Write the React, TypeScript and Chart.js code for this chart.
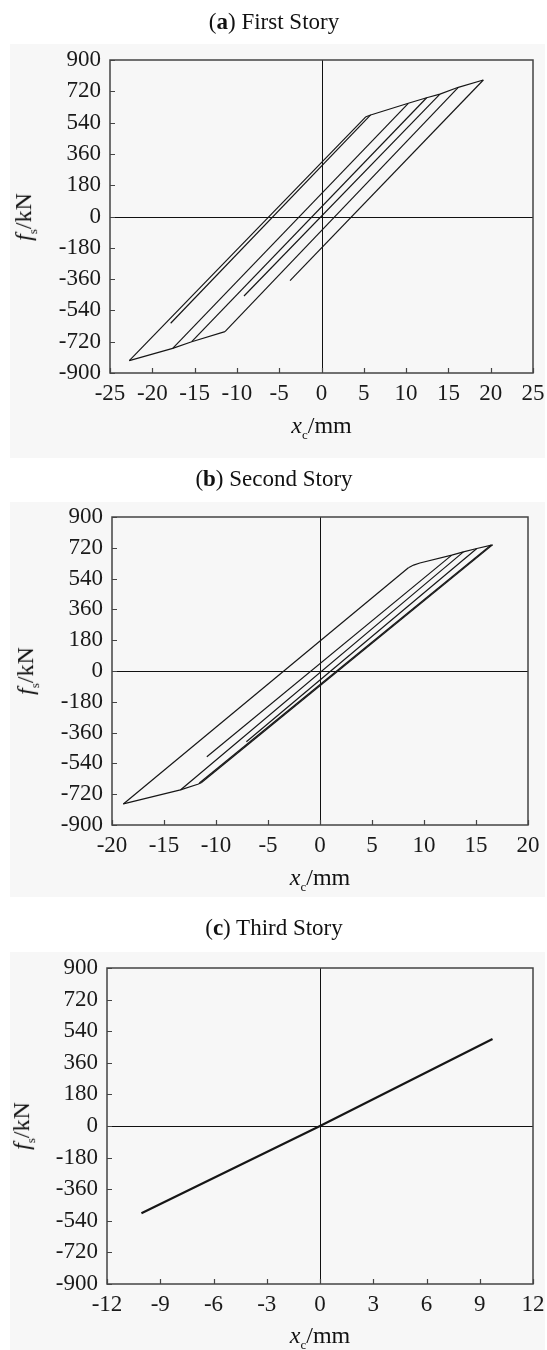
import React, { useEffect, useRef } from "react";
import { Chart, registerables } from "chart.js";

Chart.register(...registerables);

type Pt = [number, number];

const FONT = "'Liberation Serif', 'Times New Roman', serif";
const PAGE_W = 547;

// ---------- shared force ticks ----------
const forceTicks = [-900, -720, -540, -360, -180, 0, 180, 360, 540, 720, 900];

// ---------- (a) First Story ----------
const story1DispTicks = [-25, -20, -15, -10, -5, 0, 5, 10, 15, 20, 25];
const story1UpperBranch: Pt[] = [
  [5.26, 574], [5.81, 584], [10.26, 651], [12.43, 683], [14.0, 704], [16.17, 743], [19.13, 785],
];
const story1LowerBranch: Pt[] = [
  [-22.72, -829], [-17.59, -758], [-15.34, -720], [-11.41, -662],
];
const story1Unloading: Pt[][] = [
  [[-22.72, -829], [5.26, 574]],
  [[-17.83, -614], [5.81, 584]],
  [[-17.59, -758], [10.26, 651]],
  [[-15.34, -720], [12.43, 683]],
  [[-9.16, -457], [14.0, 704]],
  [[-11.41, -662], [16.17, 743]],
  [[-3.72, -369], [19.13, 785]],
];

// ---------- (b) Second Story ----------
const story2DispTicks = [-20, -15, -10, -5, 0, 5, 10, 15, 20];
const story2UpperBranch: Pt[] = [
  [8.5, 603], [9.0, 619], [9.6, 631], [12.67, 677], [13.79, 696], [15.08, 716], [16.59, 737],
];
const story2LowerBranch: Pt[] = [
  [-18.91, -777], [-13.42, -695], [-11.75, -662], [-11.42, -653],
];
const story2Unloading: Pt[][] = [
  [[-18.91, -777], [8.5, 603]],
  [[-10.88, -501], [12.67, 677]],
  [[-13.42, -695], [13.79, 696]],
  [[-7.08, -413], [15.08, 716]],
  [[-11.42, -653], [16.59, 737]],
  [[-11.6, -655], [16.45, 736]],
];

// ---------- (c) Third Story ----------
const story3DispTicks = [-12, -9, -6, -3, 0, 3, 6, 9, 12];
const story3Response: Pt[] = [[-10.06, -497], [0, 0], [9.72, 496]];

interface PanelSpec {
  key: string;
  label: string;
  titleY: number;
  panelTop: number;
  panelBottom: number;
  canvasTop: number;
  canvasHeight: number;
  plotLeft: number;
  plotRight: number;
  plotTop: number;
  plotBottom: number;
  xTicks: number[];
  branches: Pt[][];
  lineWidth: number;
  yTitleX: number;
  xTitleY: number;
  name: string;
}

const panels: PanelSpec[] = [
  {
    key: "a",
    label: "a",
    name: "First Story",
    titleY: 21,
    panelTop: 44,
    panelBottom: 458,
    canvasTop: 0,
    canvasHeight: 460,
    plotLeft: 110,
    plotRight: 533,
    plotTop: 60,
    plotBottom: 373,
    xTicks: story1DispTicks,
    branches: [story1UpperBranch, story1LowerBranch, ...story1Unloading],
    lineWidth: 1.2,
    yTitleX: 25,
    xTitleY: 427,
  },
  {
    key: "b",
    label: "b",
    name: "Second Story",
    titleY: 478,
    panelTop: 502,
    panelBottom: 897,
    canvasTop: 460,
    canvasHeight: 440,
    plotLeft: 112,
    plotRight: 528,
    plotTop: 517,
    plotBottom: 825,
    xTicks: story2DispTicks,
    branches: [story2UpperBranch, story2LowerBranch, ...story2Unloading],
    lineWidth: 1.2,
    yTitleX: 27,
    xTitleY: 879,
  },
  {
    key: "c",
    label: "c",
    name: "Third Story",
    titleY: 927,
    panelTop: 952,
    panelBottom: 1350,
    canvasTop: 900,
    canvasHeight: 450,
    plotLeft: 107,
    plotRight: 533,
    plotTop: 968,
    plotBottom: 1284,
    xTicks: story3DispTicks,
    branches: [story3Response],
    lineWidth: 2.2,
    yTitleX: 23,
    xTitleY: 1337,
  },
];

const framePlugin = {
  id: "hystFrame",
  beforeDatasetsDraw(chart: any) {
    const { ctx, chartArea: a, scales } = chart;
    const x0 = Math.round(scales.x.getPixelForValue(0)) + 0.5;
    const y0 = Math.round(scales.y.getPixelForValue(0)) + 0.5;
    ctx.save();
    ctx.strokeStyle = "#111";
    ctx.lineWidth = 1;
    ctx.beginPath();
    ctx.moveTo(x0, a.top);
    ctx.lineTo(x0, a.bottom);
    ctx.moveTo(a.left, y0);
    ctx.lineTo(a.right, y0);
    ctx.stroke();
    ctx.restore();
  },
  afterDraw(chart: any) {
    const { ctx, chartArea: a, scales } = chart;
    ctx.save();
    ctx.strokeStyle = "#444";
    ctx.lineWidth = 1.5;
    ctx.strokeRect(a.left, a.top, a.right - a.left, a.bottom - a.top);
    ctx.lineWidth = 1.2;
    ctx.beginPath();
    for (const t of scales.x.ticks) {
      const px = Math.round(scales.x.getPixelForValue(t.value)) + 0.5;
      ctx.moveTo(px, a.bottom);
      ctx.lineTo(px, a.bottom - 5);
    }
    for (const t of scales.y.ticks) {
      const py = Math.round(scales.y.getPixelForValue(t.value)) + 0.5;
      ctx.moveTo(a.left, py);
      ctx.lineTo(a.left + 5, py);
    }
    ctx.stroke();
    ctx.restore();
  },
};

function StoryChart({ spec }: { spec: PanelSpec }) {
  const ref = useRef<HTMLCanvasElement>(null);
  useEffect(() => {
    const canvas = ref.current;
    if (!canvas) return;
    const xs = spec.xTicks;
    const chart = new Chart(canvas, {
      type: "scatter",
      data: {
        datasets: spec.branches.map((b) => ({
          data: b.map(([x, y]) => ({ x, y })),
          showLine: true,
          borderColor: "#161616",
          backgroundColor: "#161616",
          borderWidth: spec.lineWidth,
          pointRadius: 0,
          pointHoverRadius: 0,
          tension: 0,
          fill: false,
        })),
      },
      options: {
        animation: false,
        responsive: false,
        maintainAspectRatio: false,
        devicePixelRatio: 1,
        events: [],
        layout: {
          padding: {
            left: 0,
            top: spec.plotTop - spec.canvasTop,
            right: PAGE_W - spec.plotRight,
            bottom: 0,
          },
        },
        plugins: {
          legend: { display: false },
          tooltip: { enabled: false },
          title: { display: false },
        },
        scales: {
          x: {
            type: "linear",
            min: xs[0],
            max: xs[xs.length - 1],
            afterBuildTicks: (s: any) => {
              s.ticks = xs.map((v) => ({ value: v }));
            },
            afterFit: (s: any) => {
              s.height = spec.canvasTop + spec.canvasHeight - spec.plotBottom;
              s.paddingLeft = 0;
              s.paddingRight = 0;
            },
            ticks: {
              autoSkip: false,
              maxRotation: 0,
              minRotation: 0,
              padding: 7,
              color: "#1a1a1a",
              font: { family: FONT, size: 23 },
            },
            grid: { display: false, drawTicks: false },
            border: { display: false },
          },
          y: {
            type: "linear",
            min: forceTicks[0],
            max: forceTicks[forceTicks.length - 1],
            afterBuildTicks: (s: any) => {
              s.ticks = forceTicks.map((v) => ({ value: v }));
            },
            afterFit: (s: any) => {
              s.width = spec.plotLeft;
              s.paddingTop = 0;
              s.paddingBottom = 0;
            },
            ticks: {
              autoSkip: false,
              padding: 9,
              color: "#1a1a1a",
              font: { family: FONT, size: 23 },
            },
            grid: { display: false, drawTicks: false },
            border: { display: false },
          },
        },
      } as any,
      plugins: [framePlugin],
    });
    return () => chart.destroy();
  }, [spec]);
  return (
    <canvas
      ref={ref}
      width={PAGE_W}
      height={spec.canvasHeight}
      style={{
        position: "absolute",
        left: 0,
        top: spec.canvasTop,
        width: PAGE_W,
        height: spec.canvasHeight,
      }}
    />
  );
}

export default function App() {
  const textBase: React.CSSProperties = {
    position: "absolute",
    fontFamily: FONT,
    color: "#111",
    whiteSpace: "nowrap",
    lineHeight: 1,
  };
  return (
    <div
      style={{
        position: "absolute",
        left: 0,
        top: 0,
        width: PAGE_W,
        height: 1350,
        background: "#ffffff",
        overflow: "hidden",
      }}
    >
      {panels.map((p) => (
        <div
          key={"bg" + p.key}
          style={{
            position: "absolute",
            left: 10,
            top: p.panelTop,
            width: 535,
            height: p.panelBottom - p.panelTop,
            background: "#f7f7f7",
          }}
        />
      ))}
      {panels.map((p) => (
        <StoryChart key={"c" + p.key} spec={p} />
      ))}
      {panels.map((p) => (
        <React.Fragment key={"t" + p.key}>
          <div
            style={{
              ...textBase,
              fontSize: 23,
              left: 274,
              top: p.titleY,
              transform: "translate(-50%, -50%)",
            }}
          >
            (<b>{p.label}</b>) {p.name}
          </div>
          <div
            style={{
              ...textBase,
              fontSize: 24,
              left: (p.plotLeft + p.plotRight) / 2,
              top: p.xTitleY,
              transform: "translate(-50%, -50%)",
            }}
          >
            <i>x</i>
            <sub style={{ fontSize: 13 }}>c</sub>/mm
          </div>
          <div
            style={{
              ...textBase,
              fontSize: 24,
              left: p.yTitleX,
              top: (p.plotTop + p.plotBottom) / 2,
              transform: "translate(-50%, -50%) rotate(-90deg)",
            }}
          >
            <i>f</i>
            <sub style={{ fontSize: 13 }}>s</sub>/kN
          </div>
        </React.Fragment>
      ))}
    </div>
  );
}
